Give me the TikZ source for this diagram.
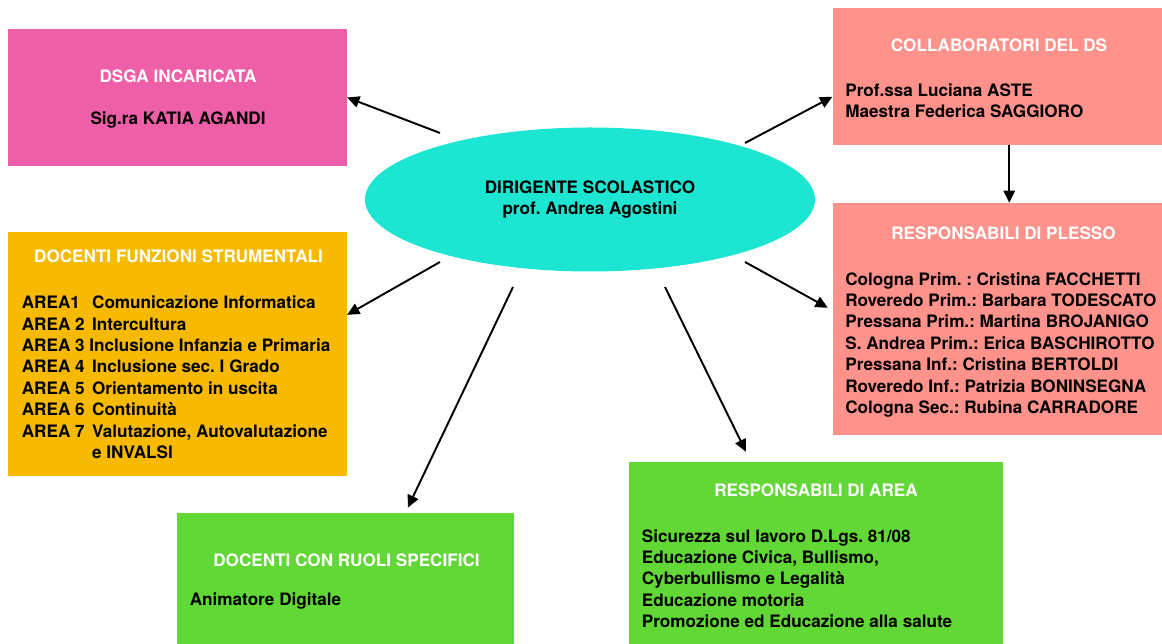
\documentclass[tikz,border=0pt]{standalone}
\usepackage{fontspec}
\setmainfont{TeX Gyre Heros}
\usepackage{tikz}
\usetikzlibrary{arrows.meta}
\usetikzlibrary{shapes}
\definecolor{dsgapink}{HTML}{EF5FA7}
\definecolor{collabsalmon}{HTML}{FF928A}
\definecolor{funzorange}{HTML}{F8BA00}
\definecolor{areagreen}{HTML}{61D836}
\definecolor{dscyan}{HTML}{1CE6D2}
\frenchspacing
\newcommand{\areaitem}[2]{\makebox[40pt][l]{#1}#2}
\tikzset{box/.style={inner sep=0pt, draw=none},
 boxtitle/.style={text=white, inner sep=0pt, font=\bfseries\fontsize{9.75}{12.2}\selectfont},
 boxtext/.style={align=left, inner sep=0pt, font=\bfseries\fontsize{9.75}{12.2}\selectfont},
 link/.style={-{Triangle[length=7pt,width=6.5pt]}, line width=1.1pt},
 }

\begin{document}
\begin{tikzpicture}
        \useasboundingbox (0,0) rectangle (23.24,12.88);
        \clip (0,0) rectangle (23.24,12.88);
        \node[box, fill=dsgapink, minimum width=6.77cm, minimum height=2.73cm] (dsga) at (3.55,10.93) {};
        \node[box, fill=collabsalmon, minimum width=6.59cm, minimum height=2.73cm] (collab) at (19.95,11.35) {};
        \node[box, fill=collabsalmon, minimum width=6.59cm, minimum height=4.63cm] (plesso) at (19.95,6.50) {};
        \node[box, fill=funzorange, minimum width=6.77cm, minimum height=4.89cm] (funz) at (3.55,5.80) {};
        \node[box, fill=areagreen, minimum width=6.73cm, minimum height=3.33cm] (ruoli) at (6.91,0.95) {};
        \node[box, fill=areagreen, minimum width=7.47cm, minimum height=4.37cm] (area) at (16.32,1.46) {};
        \node[ellipse, fill=dscyan, inner sep=0pt, minimum width=9cm, minimum height=2.88cm,
            align=center, font=\bfseries\fontsize{9.75}{12.3}\selectfont] (ds) at (11.80,8.89)
            {DIRIGENTE SCOLASTICO\\prof. Andrea Agostini};

        \node[boxtitle] (dsgatitle) at (3.56,11.35) {DSGA INCARICATA};
        \node[boxtext, anchor=base] (dsgatext) at (3.56,10.39) {Sig.ra KATIA AGANDI};

        \node[boxtitle] (collabtitle) at (19.98,11.98) {COLLABORATORI DEL DS};
        \node[boxtext, anchor=north west] (collabtext) at (16.9,11.22)
            {Prof.ssa Luciana ASTE\\Maestra Federica SAGGIORO};

        \node[boxtitle] (plessotitle) at (20.07,8.21) {RESPONSABILI DI PLESSO};
        \node[boxtext, anchor=north west] (plessotext) at (16.9,7.44)
            {Cologna Prim. : Cristina FACCHETTI\\
             Roveredo Prim.: Barbara TODESCATO\\
             Pressana Prim.: Martina BROJANIGO\\
             S. Andrea Prim.: Erica BASCHIROTTO\\
             Pressana Inf.: Cristina BERTOLDI\\
             Roveredo Inf.: Patrizia BONINSEGNA\\
             Cologna Sec.: Rubina CARRADORE};

        \node[boxtitle] (funztitle) at (3.57,7.75) {DOCENTI FUNZIONI STRUMENTALI};
        \node[boxtext, anchor=north west] (funztext) at (0.43,6.97)
            {\areaitem{AREA1}{Comunicazione Informatica}\\
             \areaitem{AREA 2}{Intercultura}\\
             AREA 3 Inclusione Infanzia e Primaria\\
             \areaitem{AREA 4}{Inclusione sec. I Grado}\\
             \areaitem{AREA 5}{Orientamento in uscita}\\
             \areaitem{AREA 6}{Continuità}\\
             \areaitem{AREA 7}{Valutazione, Autovalutazione}\\
             \areaitem{}{e INVALSI}};

        \node[boxtitle] (ruolititle) at (6.93,1.68) {DOCENTI CON RUOLI SPECIFICI};
        \node[boxtext, anchor=base west] (ruolitext) at (3.79,0.76) {Animatore Digitale};

        \node[boxtitle] (areatitle) at (16.32,3.08) {RESPONSABILI DI AREA};
        \node[boxtext, anchor=north west] (areatext) at (12.83,2.30)
            {Sicurezza sul lavoro D.Lgs. 81/08\\
             Educazione Civica, Bullismo,\\
             Cyberbullismo e Legalità\\
             Educazione motoria\\
             Promozione ed Educazione alla salute};

        \coordinate (fromdsga) at (8.80,10.22);
        \coordinate (fromcollab) at (14.90,10.02);
        \coordinate (fromplesso) at (14.90,7.64);
        \coordinate (fromfunz) at (8.80,7.64);
        \coordinate (fromruoli) at (10.26,7.14);
        \coordinate (fromarea) at (13.30,7.14);
        \draw[link] (fromdsga) -- (dsga.east);
        \draw[link] (fromcollab) -- (collab.187);
        \draw[link] ([xshift=0.235cm]collab.south) -- ([xshift=0.235cm]plesso.north);
        \draw[link, shorten >=3pt] (fromplesso) -- (plesso.177);
        \draw[link] (fromfunz) -- (funz.13.65);
        \draw[link, shorten >=3.3pt] (fromruoli) -- ([xshift=1.196cm]ruoli.north);
        \draw[link, shorten >=6.1pt] (fromarea) -- ([xshift=-1.306cm]area.north);
    \end{tikzpicture}
\end{document}
